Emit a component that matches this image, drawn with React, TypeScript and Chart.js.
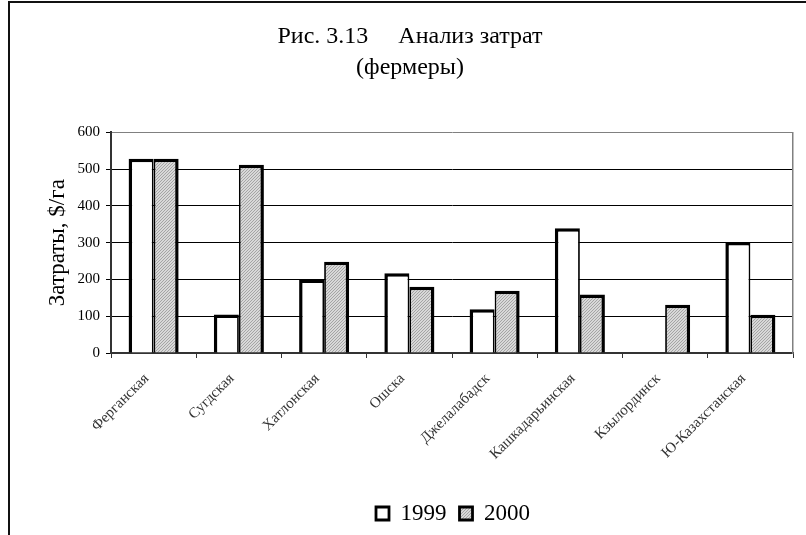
import React, { useEffect, useRef } from "react";
import { Chart, registerables } from "chart.js";

Chart.register(...registerables);

const categories = [
  "Ферганская",
  "Сугдская",
  "Хатлонская",
  "Ошска",
  "Джелалабадск",
  "Кашкадарьинская",
  "Кзылординск",
  "Ю-Казахстанская",
];
const seriesNames = ["1999", "2000"];
const values1999 = [528, 105, 200, 217, 119, 339, null, 302];
const values2000 = [528, 512, 248, 180, 169, 159, 131, 104];
const yMin = 0;
const yMax = 600;
const yStep = 100;
const titleLines = ["Рис. 3.13     Анализ затрат", "(фермеры)"];
const yTitle = "Затраты, $/га";

const SERIF = "'Liberation Serif', 'Times New Roman', serif";

function makeHatch(): CanvasPattern | string {
  const c = document.createElement("canvas");
  c.width = 3;
  c.height = 3;
  const g = c.getContext("2d");
  if (!g) return "#c8c8c8";
  g.fillStyle = "#d8d8d8";
  g.fillRect(0, 0, 3, 3);
  g.fillStyle = "#a4a4a4";
  for (let i = 0; i < 3; i++) g.fillRect(2 - i, i, 1, 1);
  const p = g.createPattern(c, "repeat");
  return p || "#c8c8c8";
}

const boxShift = {
  id: "boxShift",
  afterLayout(chart: any) {
    const l = chart.legend;
    if (l) {
      l.left += 36;
      l.right += 36;
    }
    const t = chart.titleBlock;
    if (t) {
      t.left -= 7;
      t.right -= 7;
    }
  },
};

export default function App() {
  const ref = useRef<HTMLCanvasElement | null>(null);

  useEffect(() => {
    if (!ref.current) return;
    const hatch = makeHatch();
    const chart = new Chart(ref.current, {
      type: "bar",
      data: {
        labels: categories,
        datasets: [
          {
            label: seriesNames[0],
            data: values1999 as any,
            backgroundColor: "#ffffff",
            borderColor: "#000000",
            borderWidth: { top: 3.5, left: 3.5, right: 1.8, bottom: 0 } as any,
            categoryPercentage: 0.587,
            barPercentage: 1,
          },
          {
            label: seriesNames[1],
            data: values2000,
            backgroundColor: hatch as any,
            borderColor: "#000000",
            borderWidth: { top: 3.5, left: 1.8, right: 3.5, bottom: 0 } as any,
            categoryPercentage: 0.587,
            barPercentage: 1,
          },
        ],
      },
      options: {
        animation: false,
        responsive: false,
        events: [],
        layout: { padding: { left: 41, right: 13, top: 0, bottom: 0 } },
        plugins: {
          title: {
            display: true,
            text: titleLines,
            color: "#000",
            font: { family: SERIF, size: 24, weight: "normal", lineHeight: 1.3 },
            padding: { top: 21, bottom: 49 },
          },
          legend: {
            display: true,
            position: "bottom",
            labels: {
              color: "#000",
              font: { family: SERIF, size: 23 },
              boxWidth: 13,
              boxHeight: 13,
              padding: 13,
              generateLabels: (c: any) =>
                Chart.defaults.plugins.legend.labels
                  .generateLabels(c)
                  .map((it: any) => ({ ...it, lineWidth: 2.8, strokeStyle: "#000" })),
            },
          },
          tooltip: { enabled: false },
        },
        scales: {
          x: {
            afterFit: (s: any) => {
              s.height = 136;
            },
            grid: {
              display: true,
              drawOnChartArea: false,
              drawTicks: true,
              tickLength: 5,
              tickColor: "#333",
              offset: true,
            },
            border: { display: true, color: "#333", width: 2 },
            ticks: {
              autoSkip: false,
              minRotation: 45,
              maxRotation: 45,
              padding: 12,
              labelOffset: -7,
              color: "#333",
              font: { family: SERIF, size: 15 },
            },
          },
          y: {
            min: yMin,
            max: yMax,
            afterFit: (s: any) => {
              s.width = 70;
            },
            ticks: {
              stepSize: yStep,
              padding: 6,
              color: "#000",
              font: { family: SERIF, size: 15 },
            },
            grid: {
              color: (ctx: any) => (ctx.tick && ctx.tick.value === yMax ? "#808080" : "#000000"),
              tickColor: "#000",
              tickLength: 5,
              lineWidth: 1,
            },
            border: { display: true, color: "#333", width: 2 },
            title: {
              display: true,
              text: yTitle,
              color: "#000",
              font: { family: SERIF, size: 23 },
              padding: { top: 3, bottom: 0 },
            },
          },
          y2: {
            position: "right",
            min: yMin,
            max: yMax,
            afterFit: (s: any) => {
              s.width = 0;
            },
            grid: { display: false, drawTicks: false },
            ticks: { display: false },
            border: { display: true, color: "#808080", width: 1.5 },
          },
        },
      } as any,
      plugins: [boxShift],
    });
    return () => chart.destroy();
  }, []);

  return (
    <div style={{ position: "absolute", left: 0, top: 0, width: 806, height: 535, overflow: "hidden", background: "#fff" }}>
      <canvas ref={ref} width={806} height={535} style={{ display: "block" }} />
      <div
        style={{
          position: "absolute",
          left: 8,
          top: 1,
          width: 820,
          height: 700,
          borderLeft: "2px solid #111",
          borderTop: "2px solid #111",
          pointerEvents: "none",
        }}
      />
    </div>
  );
}
